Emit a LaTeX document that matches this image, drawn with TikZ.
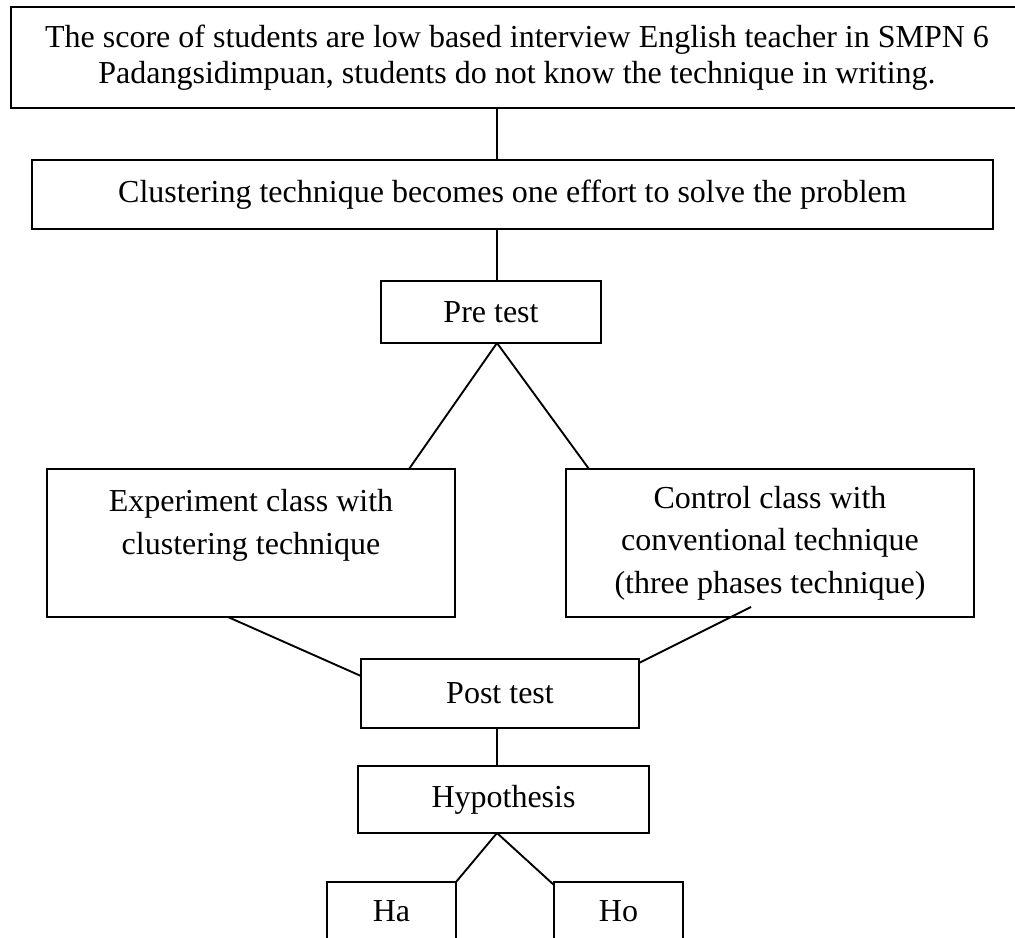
\documentclass[tikz,border=0pt]{standalone}
\usepackage{fontspec}
\setmainfont{Liberation Serif}
\usetikzlibrary{positioning,calc}

\begin{document}
\begin{tikzpicture}[
  box/.style={rectangle, draw, line width=0.75pt, inner sep=0pt, outer sep=0pt, align=center,
    font=\fontsize{12.8pt}{14.6pt}\selectfont, minimum height=27.6pt},
  classbox/.style={box, minimum width=163.2pt, minimum height=59.2pt,
    font=\fontsize{12.8pt}{17pt}\selectfont},
  link/.style={line width=0.75pt}
]
  \useasboundingbox (0,0) rectangle (406pt,-374.8pt);
  \clip (0,0) rectangle (406pt,-374.8pt);

  \node[box, minimum width=404.8pt, minimum height=40.4pt] (prob) at (206.8pt,-23pt)
    {The score of students are low based interview English teacher in SMPN 6\\
     Padangsidimpuan, students do not know the technique in writing.};
  \node[box, below=20.8pt of prob, xshift=-1.8pt, minimum width=384.4pt] (sol)
    {Clustering technique becomes one effort to solve the problem};
  \node[box, below=20.8pt of sol, xshift=-8.6pt, minimum width=88pt, minimum height=24.8pt] (pre) {Pre test};
  \node[classbox, below=50.4pt of pre, xshift=-96pt] (exp)
    {Experiment class with\\clustering technique\\\mbox{}};
  \node[classbox, below=50.4pt of pre, xshift=111.6pt] (ctrl)
    {Control class with\\conventional technique\\(three phases technique)};
  \node[box, below=16.8pt of exp, xshift=99.6pt, minimum width=111.2pt] (post) {Post test};
  \node[box, below=15.2pt of post, xshift=1.4pt, minimum width=116.4pt, minimum height=26.8pt] (hyp) {Hypothesis};
  \node[box, below=19.6pt of hyp, xshift=-44.8pt, minimum width=51.6pt, minimum height=23.2pt] (ha) {Ha};
  \node[box, below=19.6pt of hyp, xshift=46pt, minimum width=51.6pt, minimum height=23.2pt] (ho) {Ho};

  % main spine
  \coordinate (spine) at (198.8pt,0);
  \draw[link] (spine |- prob.south) -- (spine |- sol.north);
  \draw[link] (spine |- sol.south) -- (spine |- pre.north);
  \draw[link] (spine |- pre.south) -- ($(exp.north east)+(-18.4pt,0)$);
  \draw[link] (spine |- pre.south) -- ($(ctrl.north west)+(9.2pt,0)$);
  \draw[link] ($(exp.south)+(-9.2pt,0)$) -- ($(post.north west)+(0,-6.8pt)$);
  \draw[link] ($(ctrl.south)+(-7.6pt,4pt)$) -- ($(post.north east)+(0,-1.6pt)$);
  \draw[link] (spine |- post.south) -- (spine |- hyp.north);
  \draw[link] (spine |- hyp.south) -- (ha.north east);
  \draw[link] (spine |- hyp.south) -- ($(ho.north west)+(0,-1.2pt)$);
\end{tikzpicture}
\end{document}
